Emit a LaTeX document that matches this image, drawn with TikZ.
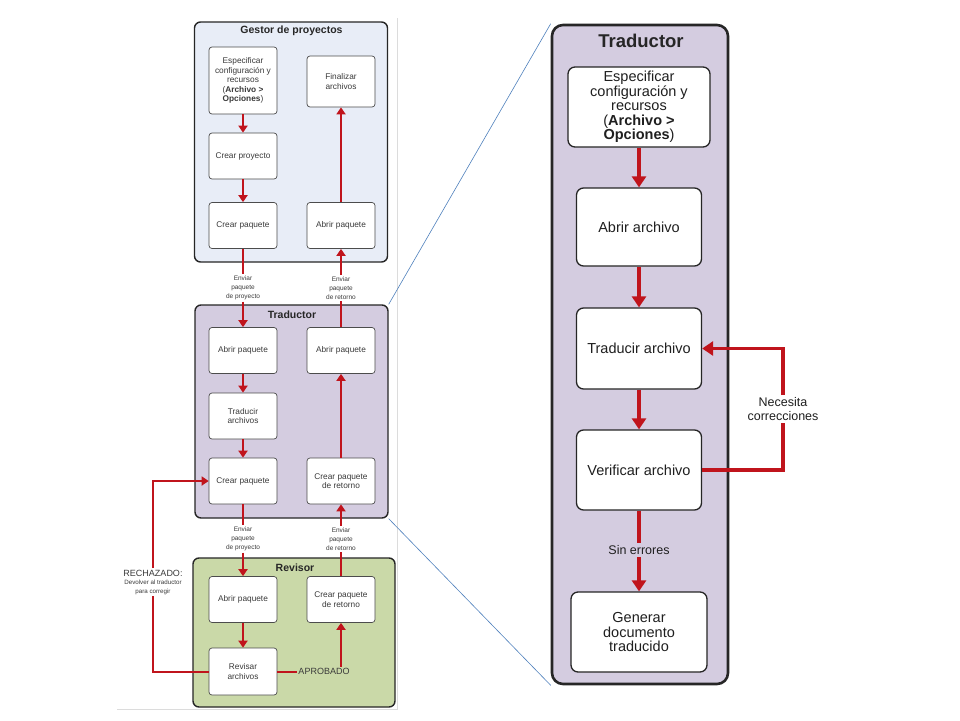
\documentclass[tikz,border=0pt]{standalone}
\usepackage{fontspec}
\setmainfont{Liberation Sans}
\usetikzlibrary{arrows.meta}
\definecolor{flowred}{HTML}{C0141C}
\definecolor{gestorfill}{HTML}{E8EDF7}
\definecolor{tradfill}{HTML}{D4CCE0}
\definecolor{revfill}{HTML}{CAD9A8}
\definecolor{linkblue}{HTML}{4F81BD}
\definecolor{framegray}{HTML}{DCDCDC}
\definecolor{inkgray}{HTML}{3A3A3A}

\begin{document}
\begin{tikzpicture}[x=1pt,y=-1pt,
  panel/.style={draw=black!85, line width=1.4pt, rounded corners=6pt, inner sep=0pt},
  ptitle/.style={font=\fontsize{10.5}{12}\selectfont\bfseries, text=black!85},
  box/.style={draw=black!70, fill=white, rounded corners=3pt, line width=0.7pt,
    minimum width=68pt, minimum height=46pt, align=center, inner sep=1pt,
    font=\fontsize{8.3}{9.6}\selectfont, text=inkgray},
  bigbox/.style={draw=black!85, fill=white, rounded corners=7pt, line width=1.3pt,
    minimum width=125pt, minimum height=79pt, align=center, inner sep=1pt,
    font=\fontsize{14.5}{14.5}\selectfont, text=black!88},
  lbl/.style={align=center, inner sep=1.5pt, font=\fontsize{6.5}{9}\selectfont, text=inkgray},
  biglbl/.style={align=center, inner sep=2pt, font=\fontsize{12.5}{14}\selectfont, text=black!88},
  flowline/.style={draw=flowred, line width=2pt},
  flow/.style={flowline, -{Triangle[length=7pt,width=9pt]}},
  bigline/.style={draw=flowred, line width=3.3pt},
  bigflow/.style={bigline, -{Triangle[length=11pt,width=14pt]}},
  link/.style={draw=linkblue, line width=0.6pt}]
  \fill[white] (0,0) rectangle (960,720);
  \useasboundingbox (0,0) rectangle (960,720);
  \draw[framegray, line width=0.6pt] (397,18) -- (397,709) -- (117,709);

  \node[panel, fill=gestorfill, minimum width=193pt, minimum height=240pt] (pgest) at (291,142) {};
  \node[panel, fill=tradfill, minimum width=193pt, minimum height=213pt] (ptrad) at (291.5,411.5) {};
  \node[panel, fill=revfill, minimum width=202pt, minimum height=149pt] (prev) at (294,632.5) {};
  \node[panel, fill=tradfill, line width=2.6pt, rounded corners=11pt, minimum width=176pt, minimum height=659pt] (pright) at (640,354.5) {};
  \draw[link] (ptrad.north east) -- (pright.north west);
  \draw[link] (ptrad.south east) -- (pright.south west);

  \node[ptitle] (tgest) at (291.5,31) {Gestor de proyectos};
  \node[ptitle] (ttrad) at (292,315) {Traductor};
  \node[ptitle] (trev) at (295,568) {Revisor};
  \node[ptitle, font=\fontsize{18.5}{20}\selectfont\bfseries] (tright) at (641,41) {Traductor};

  \node[box, minimum height=67pt] (gesp) at (243,80.5) {Especificar\\configuración y\\recursos\\(\textbf{Archivo >}\\\textbf{Opciones})};
  \node[box, minimum height=51pt] (gfin) at (341,81.5) {Finalizar\\archivos};
  \node[box] (gproy) at (243,156) {Crear proyecto};
  \node[box] (gpaq) at (243,225.5) {Crear paquete};
  \node[box] (gabr) at (341,225.5) {Abrir paquete};

  \node[box] (tabr) at (243,350.5) {Abrir paquete};
  \node[box] (tabr2) at (341,350.5) {Abrir paquete};
  \node[box] (ttradu) at (243,416) {Traducir\\archivos};
  \node[box] (tpaq) at (243,481) {Crear paquete};
  \node[box] (tret) at (341,481) {Crear paquete\\de retorno};

  \node[box] (rabr) at (243,599.5) {Abrir paquete};
  \node[box] (rret) at (341,599.5) {Crear paquete\\de retorno};
  \node[box, minimum height=47pt] (rrev) at (243,671.5) {Revisar\\archivos};

  \node[lbl] (env1) at (243,288) {Enviar\\paquete\\de proyecto};
  \node[lbl] (env2) at (341,288) {Enviar\\paquete\\de retorno};
  \node[lbl] (env3) at (243,539) {Enviar\\paquete\\de proyecto};
  \node[lbl] (env4) at (341,539) {Enviar\\paquete\\de retorno};
  \node[lbl, font=\fontsize{9}{10}\selectfont] (aprob) at (324,671.5) {APROBADO};
  \node[lbl, font=\fontsize{6.2}{8.5}\selectfont] (rech) at (153,582) {{\fontsize{9}{10}\selectfont RECHAZADO:}\\Devolver al traductor\\para corregir};

  \node[bigbox, minimum width=142pt, minimum height=80pt] (esp) at (639,107) {Especificar\\configuración y\\recursos\\(\textbf{Archivo >}\\\textbf{Opciones})};
  \node[bigbox, minimum height=78pt] (abr) at (639,227) {Abrir archivo};
  \node[bigbox, minimum height=81pt] (trad) at (639,348.5) {Traducir archivo};
  \node[bigbox, minimum height=80pt] (ver) at (639,470) {Verificar archivo};
  \node[bigbox, minimum width=136pt, minimum height=80pt] (gen) at (639,632) {Generar\\documento\\traducido};
  \node[biglbl] (sinerr) at (639,550) {Sin errores};
  \node[biglbl] (nec) at (783,409) {Necesita\\correcciones};

  \draw[flow] (gesp) -- (gproy);
  \draw[flow] (gproy) -- (gpaq);
  \draw[flowline] (gpaq) -- (env1);
  \draw[flow] (env1) -- (tabr);
  \draw[flow] (tabr) -- (ttradu);
  \draw[flow] (ttradu) -- (tpaq);
  \draw[flowline] (tpaq) -- (env3);
  \draw[flow] (env3) -- (rabr);
  \draw[flow] (rabr) -- (rrev);
  \draw[flowline] (rrev) -- (aprob);
  \draw[flow] (aprob.north -| rret) -- (rret);
  \draw[flowline] (rret) -- (env4);
  \draw[flow] (env4) -- (tret);
  \draw[flow] (tret) -- (tabr2);
  \draw[flowline] (tabr2) -- (env2);
  \draw[flow] (env2) -- (gabr);
  \draw[flow] (gabr) -- (gfin);
  \draw[flowline] (rrev.west) -| (rech.south);
  \draw[flow] (rech.north) |- (tpaq.west);

  \draw[bigflow] (esp) -- (abr);
  \draw[bigflow] (abr) -- (trad);
  \draw[bigflow] (trad) -- (ver);
  \draw[bigline] (ver) -- (sinerr);
  \draw[bigflow] (sinerr) -- (gen);
  \draw[bigline] (ver.east) -| (nec.south);
  \draw[bigflow] (nec.north) |- (trad.east);
\end{tikzpicture}
\end{document}
